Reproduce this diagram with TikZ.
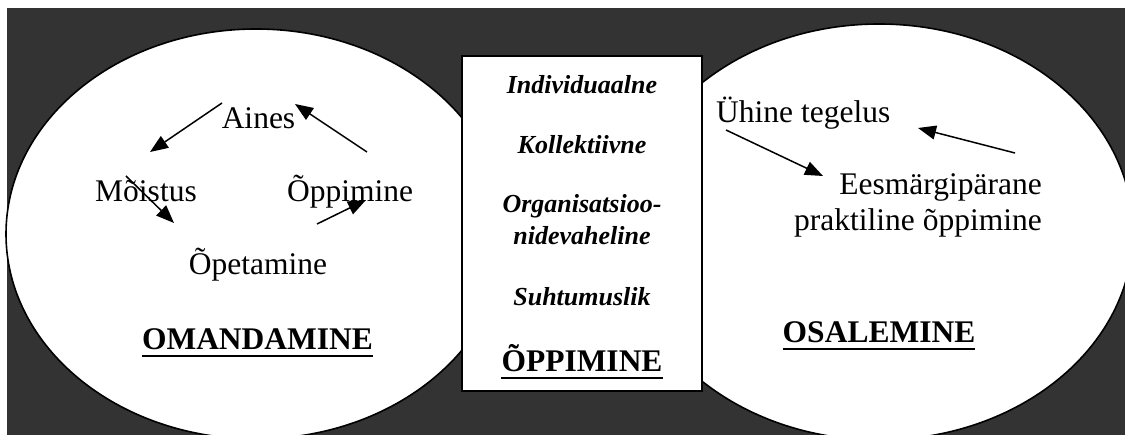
\documentclass[tikz,border=0pt]{standalone}
\usepackage{fontspec}
\setmainfont{Liberation Serif}
\usetikzlibrary{arrows.meta}
\definecolor{panel}{RGB}{51,51,51}
\begin{document}
\begin{tikzpicture}[x=1pt,y=-1pt,
  word/.style={inner sep=0pt, anchor=base, font=\fontsize{31.5}{36}\selectfont},
  head/.style={inner sep=0pt, anchor=base, font=\fontsize{31.5}{36}\selectfont\bfseries},
  kind/.style={inner sep=0pt, anchor=base, font=\fontsize{26}{30}\selectfont\bfseries\itshape},
  bubble/.style={draw=black, fill=white, line width=1.6pt},
  link/.style={line width=1.5pt, -{Triangle[length=18pt,width=14pt]}},
  rulebar/.style={line width=2.8pt}
]
\useasboundingbox (0,0) rectangle (1125,435);

% dark panel with the two ovals
\begin{scope}
  \clip (0,0) rectangle (1125,435);
  \fill[panel] (7,8) rectangle (1125,435);
  \draw[bubble] (256,234) ellipse [x radius=250, y radius=205];
  \draw[bubble] (879,232) ellipse [x radius=254, y radius=208];
\end{scope}

% middle box
\node[bubble, inner sep=0pt, minimum width=240pt, minimum height=335pt] (box) at (582,223.5) {};

% left oval: the cycle
\node[word] (aines)  at (258.5,129) {Aines};
\node[word] (moistus) at (146,202) {Mõistus};
\node[word] (oppimine) at (350,202) {Õppimine};
\node[word] (opetamine) at (258,275) {Õpetamine};
\node[head] (omand) at (257.5,350) {OMANDAMINE};
\draw[rulebar] ([yshift=-6pt]omand.base west) -- ([yshift=-6pt]omand.base east);

\coordinate (a1s) at (222,103); \coordinate (a1e) at (150,152);
\coordinate (a2s) at (367,152); \coordinate (a2e) at (295,104);
\coordinate (a3s) at (126,176); \coordinate (a3e) at (174,223);
\coordinate (a4s) at (317,224); \coordinate (a4e) at (366,200);
\draw[link] (a1s) -- (a1e);
\draw[link] (a2s) -- (a2e);
\draw[link] (a3s) -- (a3e);
\draw[link] (a4s) -- (a4e);

% middle box: kinds of learning
\node[kind] (ind) at (582,94) {Individuaalne};
\node[kind] (kol) at (582,154) {Kollektiivne};
\node[kind] (org1) at (582,213) {Organisatsioo-};
\node[kind] (org2) at (582,245) {nidevaheline};
\node[kind] (suh) at (582,306) {Suhtumuslik};
\node[head] (opp) at (582,372) {ÕPPIMINE};
\draw[rulebar] ([yshift=-6pt]opp.base west) -- ([yshift=-6pt]opp.base east);

% right oval
\node[word, anchor=base west] (uhine) at (716,123) {Ühine tegelus};
\node[word, anchor=base east] (ees) at (1042,195) {Eesmärgipärane};
\node[word, anchor=base east] (prak) at (1042,231) {praktiline õppimine};
\node[head] (osal) at (879,343) {OSALEMINE};
\draw[rulebar] ([yshift=-6pt]osal.base west) -- ([yshift=-6pt]osal.base east);

\coordinate (b1s) at (726,130); \coordinate (b1e) at (823,176);
\coordinate (b2s) at (1015,153); \coordinate (b2e) at (918,128);
\draw[link] (b1s) -- (b1e);
\draw[link] (b2s) -- (b2e);
\end{tikzpicture}
\end{document}
